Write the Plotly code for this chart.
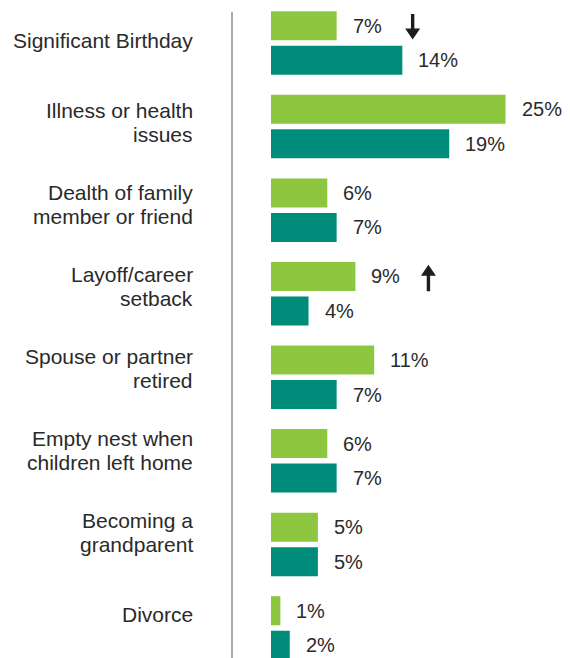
import plotly.graph_objects as go

# Life events and share of respondents citing each one
categories = [
    "Significant Birthday",
    "Illness or health<br>issues",
    "Dealth of family<br>member or friend",
    "Layoff/career<br>setback",
    "Spouse or partner<br>retired",
    "Empty nest when<br>children left home",
    "Becoming a<br>grandparent",
    "Divorce",
]
current_pct = [7, 25, 6, 9, 11, 6, 5, 1]
previous_pct = [14, 19, 7, 4, 7, 7, 5, 2]
# direction of a notable shift, shown beside the current-survey label
change_flags = ["down", None, None, "up", None, None, None, None]

GREEN = "#8DC63F"
TEAL = "#008C7A"
TEXT = "#2A2A2A"
ARROW = "#1E1E1E"
FONT = "Liberation Sans, Arial, sans-serif"

W, H = 570, 658
AXIS_LEFT = 271          # pixel where bars start
PX_PER_PCT = 9.38        # horizontal scale
GROUP_PX = 83.57         # distance between category centres
FIRST_CENTER = 43        # centre of first category, px from top
BAR_PX = 29
GAP_PX = 5.5
LABEL_RIGHT = 195
LABEL_PITCH = 82.0
LABEL_FIRST = 40.5
LINE_PX = 24.3

bar_w = BAR_PX / GROUP_PX
half_gap = GAP_PX / 2 / GROUP_PX
y_top = -FIRST_CENTER / GROUP_PX
y_bottom = (H - FIRST_CENTER) / GROUP_PX


def arrow_path(cx, tip, tail, shaft=1.7, head=7.5, head_len=11.0):
    """Block arrow in pixel offsets; tip/tail are vertical offsets (up = +)."""
    d = 1 if tip > tail else -1
    base = tip - d * head_len
    pts = [(cx - shaft, tail), (cx + shaft, tail), (cx + shaft, base),
           (cx + head, base), (cx, tip), (cx - head, base), (cx - shaft, base)]
    return "M" + " L".join(f"{x:.2f},{y:.2f}" for x, y in pts) + " Z"


fig = go.Figure()
fig.add_trace(go.Bar(
    name="Current survey", y=categories, x=current_pct, orientation="h",
    width=bar_w, offset=-(bar_w + half_gap), marker_color=GREEN,
    marker_line_width=0, hoverinfo="skip",
))
fig.add_trace(go.Bar(
    name="Previous survey", y=categories, x=previous_pct, orientation="h",
    width=bar_w, offset=half_gap, marker_color=TEAL,
    marker_line_width=0, hoverinfo="skip",
))

annotations = []
shapes = [dict(type="line", xref="paper", yref="paper",
               x0=232 / W, x1=232 / W, y0=0, y1=(H - 12) / H,
               line=dict(color="#8C8C8C", width=1.5))]
green_c = -(half_gap + bar_w / 2)
teal_c = half_gap + bar_w / 2
for i, (cur, prev) in enumerate(zip(current_pct, previous_pct)):
    for val, dy in ((cur, green_c), (prev, teal_c)):
        annotations.append(dict(
            x=val, y=i + dy, xref="x", yref="y", text=f"{val}%",
            showarrow=False, xanchor="left", yanchor="middle", xshift=14,
            font=dict(family=FONT, size=20, color=TEXT),
        ))
    flag = change_flags[i]
    if flag:
        if flag == "down":
            path = arrow_path(76, tip=-13.8, tail=11.7)
        else:
            path = arrow_path(73, tip=11.8, tail=-14.8)
        shapes.append(dict(
            type="path", xref="x", yref="y",
            xsizemode="pixel", ysizemode="pixel",
            xanchor=cur, yanchor=i + green_c, path=path,
            fillcolor=ARROW, line=dict(width=0),
        ))

# category labels, right aligned, one annotation per text line
for i, cat in enumerate(categories):
    lines = cat.split("<br>")
    centre_px = LABEL_FIRST + LABEL_PITCH * i
    y_val = (centre_px - FIRST_CENTER) / GROUP_PX
    n = len(lines)
    for j, line in enumerate(lines):
        annotations.append(dict(
            x=LABEL_RIGHT / W, y=y_val, xref="paper", yref="y", text=line,
            showarrow=False, xanchor="right", yanchor="middle",
            yshift=-(j - (n - 1) / 2) * LINE_PX,
            font=dict(family=FONT, size=21, color=TEXT),
        ))

fig.update_layout(
    width=W, height=H, barmode="overlay",
    margin=dict(l=0, r=0, t=0, b=0),
    paper_bgcolor="white", plot_bgcolor="white",
    showlegend=False,
    xaxis=dict(visible=False, domain=[AXIS_LEFT / W, 1],
               range=[0, (W - AXIS_LEFT) / PX_PER_PCT], fixedrange=True),
    yaxis=dict(showticklabels=False, showgrid=False, zeroline=False,
               showline=False, ticks="", range=[y_bottom, y_top],
               fixedrange=True),
    annotations=annotations,
    shapes=shapes,
)

fig.write_html("out.html", config={"displayModeBar": False})
